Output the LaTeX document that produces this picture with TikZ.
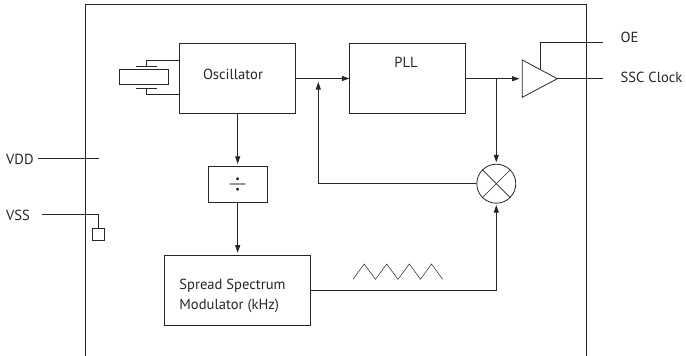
\documentclass[tikz,border=0pt]{standalone}
\usepackage{graphicx}
\usepackage{fontspec}
\setmainfont{PT Sans}
\usetikzlibrary{arrows.meta,calc}
\definecolor{ln}{gray}{0.15}
\tikzset{
  x=1pt,y=-1pt,
  wire/.style={line width=0.8pt,draw=ln},
  thin wire/.style={line width=0.6pt,draw=ln},
  flow/.style={wire,-{Triangle[length=7.5pt,width=5pt]}},
  blockbox/.style={draw=ln,line width=1pt,fill=none,inner sep=0pt,align=center},
  blocktext/.style={inner sep=0pt,align=left,text=ln,font=\fontsize{14.6}{20}\selectfont},
  lab/.style={inner sep=0pt,anchor=west,font=\fontsize{14.6}{16}\selectfont,text=ln},
}
\begin{document}
\begin{tikzpicture}
\useasboundingbox (0,0) rectangle (686,356);
% frame
\coordinate (f1) at (85.5,356); \coordinate (f2) at (85.5,4.5);
\coordinate (f3) at (586,4.5); \coordinate (f4) at (586,356);
\draw[thin wire] (f1)--(f2)--(f3)--(f4);
% blocks
\node[blockbox,minimum width=116.5pt,minimum height=70.5pt] (osc) at (237.5,78.5) {};
\node[blocktext] (osct) at (233,74) {Oscillator};
\node[blockbox,minimum width=116pt,minimum height=70.5pt] (pll) at (407.8,78.5) {};
\node[blocktext] (pllt) at (406,62.5) {PLL};
\node[blockbox,minimum width=59pt,minimum height=35.5pt,line width=0.8pt,text=ln] (div) at (237.7,184.5) {\raisebox{-1.5pt}{\scalebox{2.4}{$\div$}}};
\node[blockbox,minimum width=145.5pt,minimum height=70pt] (mod) at (237.7,290.7) {};
\node[blocktext] (modt) at (232.5,295.5) {Spread Spectrum\\Modulator (kHz)};
% crystal
\node[draw=ln,line width=0.7pt,minimum width=49.4pt,minimum height=15pt,inner sep=0pt] (xtal) at (144,76.8) {};
\coordinate (pt1) at (146,66); \coordinate (pt2) at (146,88);
\coordinate (pl1a) at (136,66); \coordinate (pl1b) at (156.5,66);
\coordinate (pl2a) at (136,88); \coordinate (pl2b) at (156.5,88);
\draw[thin wire] (pl1a)--(pl1b); \draw[thin wire] (pl2a)--(pl2b);
\coordinate (lead1) at (179.3,60); \coordinate (lead2) at (179.3,94.5);
\draw[thin wire] (pt1)|-(lead1); \draw[thin wire] (pt2)|-(lead2);
% summing node
\node[circle,draw=ln,line width=0.8pt,minimum size=39pt,inner sep=0pt] (mix) at (496.3,183.7) {};
\draw[thin wire] (mix.north west)--(mix.south east);
\draw[thin wire] (mix.north east)--(mix.south west);
% buffer
\coordinate (ta) at (522.3,60); \coordinate (tb) at (522.3,97.3); \coordinate (tc) at (557.3,78.7);
\draw[wire] (ta)--(tb)--(tc)--cycle;
\coordinate (tin) at (522.3,78.7);
% connectors
\draw[flow] (osc.east |- 0,78.5) -- (pll.west |- 0,78.5);
\coordinate (fbtip) at (318.3,82);
\draw[flow] (mix.west) -| (fbtip);
\coordinate (pllout) at (pll.east |- tin);
\draw[flow] (pllout) -- (519.5,78.7);
\coordinate (bj) at (496.3,78.7);
\draw[flow] (bj) -- ($(mix.north)+(0,-1.5)$);
\draw[flow] (mod.east) -| ($(mix.south)+(0,1.5)$);
\draw[flow] (osc.south -| div.north) -- ($(div.north)+(0,-2.5)$);
\draw[flow] (div.south) -- ($(mod.north)+(0,-2.5)$);
% outputs
\coordinate (oe0) at (540,68.5); \coordinate (oe1) at (603.3,42); \coordinate (ss1) at (603.3,78.7);
\draw[wire] (oe0)|-(oe1);
\draw[wire] (tc)--(ss1);
\node[lab] (oe) at (620.5,37.5) {OE};
\node[lab] (ssc) at (620.5,77.5) {SSC Clock};
% power
\node[lab] (vdd) at (6,159) {VDD};
\node[lab] (vss) at (6,215) {VSS};
\coordinate (vdde) at (99,158.5);
\coordinate (vdds) at (38,158.5);
\draw[wire] (vdds) -- (vdde);
\node[draw=ln,line width=0.7pt,minimum size=12.3pt,inner sep=0pt] (gnd) at (98.2,234.5) {};
\coordinate (vsss) at (42,214);
\draw[thin wire] (vsss) -| (gnd.north);
% triangle wave
\coordinate (w0) at (353,279.3);
\draw[line width=0.5pt,draw=ln] (w0) -- (364.2,264) -- (375.5,279.3) -- (386.7,264) -- (398,279.3) -- (409.3,264) -- (420.5,279.3) -- (431.5,264) -- (442.7,279.3);
\end{tikzpicture}
\end{document}
